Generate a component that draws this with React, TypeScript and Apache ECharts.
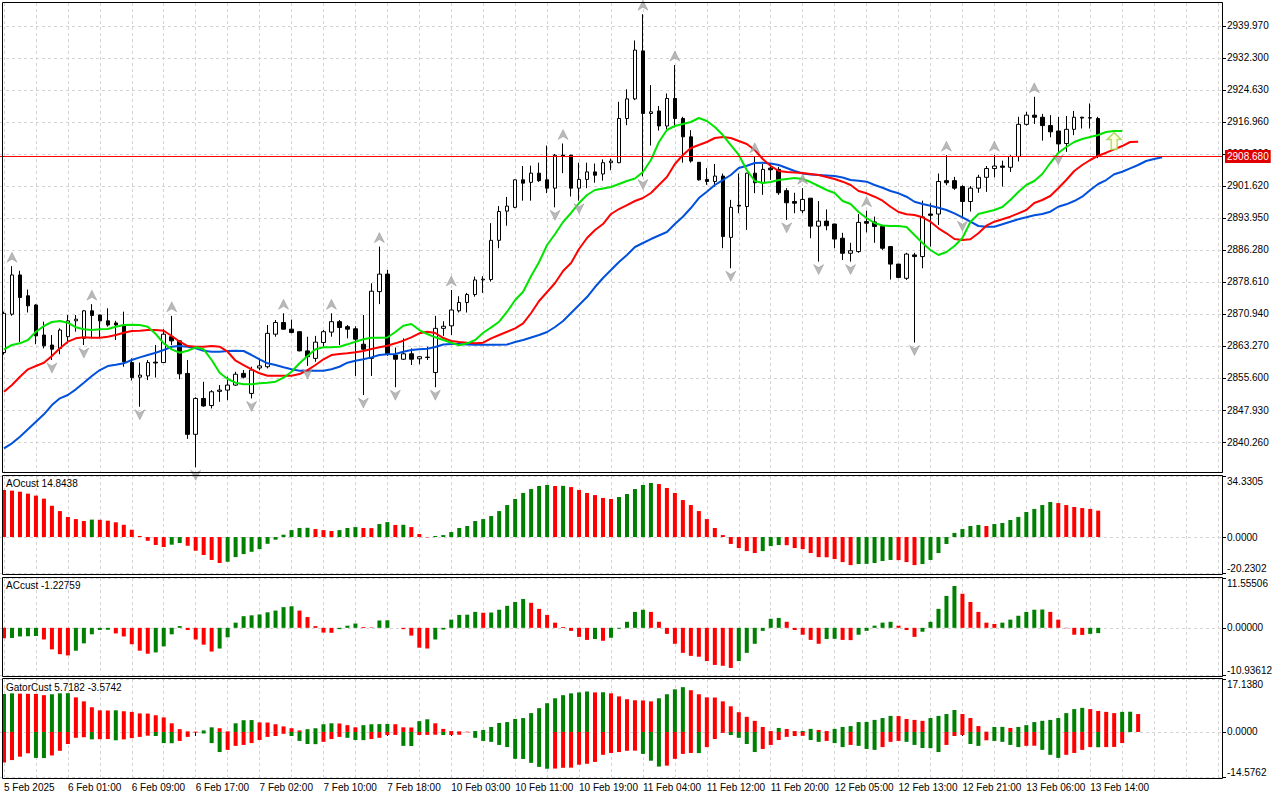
import React, { useEffect, useRef } from "react";
import * as echarts from "echarts";

const FONT = "'Liberation Sans', Arial, sans-serif";
const GREEN = "#008000";
const RED = "#ff0000";
const GRID_COLOR = "#d4d4d4";

// 153 bar slots on the time axis (138 candles + room for shifted Alligator lines)
const SLOT_COUNT = 153;
const SLOTS = Array.from({ length: SLOT_COUNT }, (_, i) => String(i));

const DATE_TICK_INDEX = [0, 8, 16, 24, 32, 40, 48, 56, 64, 72, 80, 88, 96, 104, 112, 120, 128, 136];
const DATE_TICK_TEXT = [
  "5 Feb 2025", "6 Feb 01:00", "6 Feb 09:00", "6 Feb 17:00", "7 Feb 02:00", "7 Feb 10:00",
  "7 Feb 18:00", "10 Feb 03:00", "10 Feb 11:00", "10 Feb 19:00", "11 Feb 04:00", "11 Feb 12:00",
  "11 Feb 20:00", "12 Feb 05:00", "12 Feb 13:00", "12 Feb 21:00", "13 Feb 06:00", "13 Feb 14:00",
];

const PRICE_TICKS = [
  2840.26, 2847.93, 2855.6, 2863.27, 2870.94, 2878.61, 2886.28, 2893.95, 2901.62, 2909.29,
  2916.96, 2924.63, 2932.3, 2939.97,
];
const PRICE_MIN = 2833.07;
const PRICE_MAX = 2945.48;
const LAST_PRICE = 2908.68;

const AO_MIN = -20.2302, AO_MAX = 34.3305;
const AC_MIN = -10.93612, AC_MAX = 11.55506;
const GATOR_MIN = -14.5762, GATOR_MAX = 17.138;

// [open, close, low, high]
const CANDLES: number[][] = [
  [2861.7, 2871.1, 2861.2, 2871.5], [2870.9, 2880.3, 2870.5, 2882.4], [2880.3, 2874.9, 2864.2, 2881.3],
  [2875.3, 2872.9, 2871.3, 2876.8], [2873.1, 2865.7, 2863.7, 2873.3], [2865.9, 2863.3, 2862.7, 2869.1],
  [2863.5, 2862.5, 2859.9, 2865.9], [2862.7, 2867.1, 2861.3, 2867.5], [2865.5, 2869.3, 2863.9, 2870.7],
  [2869.3, 2869.7, 2866.7, 2870.7], [2865.1, 2871.7, 2863.5, 2871.9], [2871.7, 2870.6, 2865.1, 2873.3],
  [2870.7, 2869.3, 2865.1, 2870.8], [2869.3, 2868.3, 2867.9, 2872.3], [2868.8, 2868.3, 2864.7, 2869.3],
  [2868.3, 2859.5, 2858.3, 2871.5], [2859.3, 2855.7, 2855.0, 2860.3], [2855.8, 2856.3, 2848.7, 2859.3],
  [2856.1, 2859.3, 2855.1, 2859.9], [2859.4, 2859.2, 2855.7, 2863.5], [2859.3, 2866.1, 2859.2, 2867.3],
  [2865.5, 2864.5, 2863.5, 2870.5], [2864.5, 2856.6, 2855.3, 2864.6], [2856.7, 2842.1, 2841.0, 2859.9],
  [2842.1, 2850.7, 2834.2, 2851.0], [2850.7, 2848.9, 2848.7, 2854.7], [2849.0, 2852.3, 2848.3, 2852.7],
  [2852.4, 2852.7, 2849.9, 2853.9], [2852.7, 2853.9, 2850.3, 2855.9], [2853.9, 2856.5, 2853.7, 2857.1],
  [2856.7, 2855.8, 2855.5, 2857.5], [2851.9, 2857.5, 2850.7, 2858.3], [2858.0, 2858.5, 2857.5, 2860.3],
  [2858.3, 2866.3, 2857.9, 2868.3], [2866.1, 2868.9, 2865.5, 2869.5], [2868.9, 2867.3, 2867.2, 2871.1],
  [2867.3, 2866.5, 2866.3, 2869.6], [2866.7, 2862.1, 2862.0, 2866.8], [2862.1, 2860.7, 2858.5, 2865.5],
  [2860.3, 2864.2, 2859.5, 2865.7], [2864.1, 2866.7, 2863.1, 2867.1], [2866.6, 2869.1, 2865.5, 2871.1],
  [2869.1, 2867.7, 2863.5, 2869.5], [2867.9, 2867.3, 2865.1, 2868.3], [2867.4, 2864.9, 2856.1, 2868.0],
  [2863.7, 2862.5, 2851.5, 2870.7], [2860.3, 2876.4, 2856.1, 2878.3], [2876.3, 2880.5, 2873.3, 2887.1],
  [2880.5, 2861.4, 2860.9, 2881.5], [2861.1, 2860.1, 2853.4, 2862.9], [2860.1, 2861.4, 2859.9, 2865.1],
  [2861.4, 2860.1, 2858.7, 2862.7], [2860.2, 2860.7, 2858.9, 2860.9], [2860.5, 2860.6, 2859.9, 2863.1],
  [2856.9, 2867.5, 2853.4, 2870.5], [2867.5, 2868.0, 2865.7, 2869.2], [2868.1, 2871.9, 2865.9, 2876.7],
  [2871.7, 2873.7, 2871.3, 2875.2], [2873.7, 2875.6, 2871.3, 2876.0], [2875.6, 2879.1, 2875.1, 2879.9],
  [2879.1, 2879.3, 2876.0, 2880.0], [2879.2, 2888.6, 2878.7, 2892.7], [2888.6, 2895.5, 2886.7, 2896.8],
  [2895.6, 2896.8, 2892.1, 2899.0], [2896.5, 2903.1, 2896.3, 2903.2], [2903.1, 2902.3, 2898.1, 2906.4],
  [2902.5, 2904.7, 2898.1, 2906.5], [2904.7, 2902.9, 2902.6, 2907.2], [2903.1, 2901.1, 2899.9, 2911.3],
  [2901.1, 2909.0, 2896.5, 2909.3], [2909.0, 2908.8, 2904.7, 2911.8], [2909.0, 2901.1, 2899.1, 2909.1],
  [2901.1, 2903.2, 2898.1, 2907.2], [2903.2, 2905.0, 2901.1, 2907.2], [2905.0, 2904.2, 2902.4, 2907.0],
  [2904.5, 2907.2, 2902.9, 2908.0], [2907.2, 2907.6, 2905.4, 2908.2], [2907.2, 2917.8, 2907.1, 2921.8],
  [2917.8, 2922.5, 2916.2, 2924.8], [2922.5, 2934.2, 2922.2, 2936.5], [2934.0, 2919.0, 2903.9, 2942.8],
  [2919.0, 2919.4, 2911.3, 2925.8], [2919.6, 2916.0, 2914.9, 2920.8], [2916.0, 2922.6, 2915.2, 2923.8],
  [2922.6, 2917.8, 2915.7, 2930.6], [2917.8, 2913.4, 2907.2, 2918.2], [2913.4, 2907.6, 2907.2, 2915.0],
  [2907.3, 2903.1, 2902.9, 2907.3], [2903.2, 2902.7, 2901.9, 2905.9], [2902.7, 2904.0, 2901.5, 2906.9],
  [2904.0, 2889.5, 2886.7, 2904.6], [2889.3, 2896.5, 2881.9, 2898.3], [2897.0, 2896.8, 2895.1, 2904.6],
  [2896.7, 2904.7, 2891.1, 2904.8], [2904.7, 2902.4, 2899.9, 2908.6], [2902.3, 2905.6, 2899.5, 2906.9],
  [2905.9, 2905.5, 2903.1, 2907.0], [2905.6, 2900.0, 2899.5, 2906.2], [2900.5, 2897.6, 2893.5, 2901.1],
  [2897.9, 2897.5, 2895.1, 2900.0], [2895.7, 2898.4, 2895.1, 2901.1], [2898.7, 2892.0, 2889.1, 2898.7],
  [2892.0, 2893.2, 2883.5, 2898.0], [2893.2, 2892.1, 2891.0, 2896.0], [2892.5, 2888.9, 2886.7, 2892.6],
  [2889.1, 2885.5, 2883.9, 2890.4], [2885.5, 2886.1, 2883.5, 2888.0], [2885.9, 2892.9, 2885.6, 2894.9],
  [2893.1, 2892.7, 2890.5, 2895.7], [2893.0, 2891.9, 2888.0, 2894.3], [2891.9, 2886.7, 2886.3, 2891.9],
  [2887.1, 2882.9, 2879.2, 2887.1], [2882.9, 2879.7, 2879.5, 2882.9], [2879.5, 2885.3, 2879.1, 2885.6],
  [2885.1, 2884.7, 2864.1, 2885.6], [2884.7, 2894.2, 2881.9, 2898.1], [2894.9, 2894.6, 2887.1, 2897.5],
  [2894.9, 2902.7, 2892.3, 2904.6], [2902.9, 2902.4, 2901.8, 2909.0], [2902.9, 2901.1, 2900.7, 2903.8],
  [2901.5, 2897.9, 2893.9, 2901.8], [2897.9, 2901.1, 2895.5, 2901.6], [2901.1, 2903.7, 2900.0, 2904.3],
  [2903.7, 2905.8, 2900.2, 2906.4], [2905.8, 2906.4, 2903.7, 2909.0], [2906.4, 2906.1, 2901.5, 2907.7],
  [2906.1, 2908.7, 2905.0, 2909.0], [2908.7, 2916.4, 2907.5, 2918.2], [2916.4, 2918.6, 2916.1, 2919.4],
  [2918.6, 2918.1, 2916.5, 2923.0], [2918.1, 2916.1, 2912.5, 2918.9], [2916.1, 2914.6, 2913.3, 2918.6],
  [2914.8, 2911.7, 2909.8, 2918.2], [2911.8, 2915.2, 2909.8, 2918.4], [2915.2, 2918.1, 2913.8, 2919.6],
  [2918.1, 2917.9, 2915.4, 2918.2], [2918.0, 2917.9, 2915.4, 2921.4], [2917.8, 2908.68, 2908.3, 2918.2],
];

// Alligator lines (already shifted: jaw +8, teeth +5, lips +3)
const JAW = [
  2838.74, 2839.94, 2841.52, 2843.3, 2845.12, 2846.89, 2849.12, 2850.73, 2851.52, 2852.88,
  2854.47, 2856.07, 2857.51, 2858.47, 2858.78, 2859.12, 2859.91, 2860.55, 2861.11, 2861.66,
  2862.3, 2863.1, 2863.26, 2863.1, 2862.71, 2862.14, 2861.9, 2861.88, 2862.07, 2862.14,
  2862.07, 2861.11, 2860.08, 2859.12, 2858.71, 2858.16, 2857.68, 2857.34, 2857.32, 2857.33,
  2857.34, 2857.68, 2858.3, 2859.26, 2859.74, 2860.08, 2860.55, 2861.11, 2861.27, 2861.35,
  2861.9, 2862.3, 2862.47, 2862.62, 2863.03, 2863.62, 2863.74, 2863.75, 2863.62, 2863.58,
  2863.57, 2863.58, 2863.58, 2863.62, 2864.22, 2864.7, 2865.3, 2865.9, 2866.62, 2867.82,
  2869.26, 2871.18, 2873.09, 2875.01, 2877.41, 2879.57, 2881.48, 2883.4, 2885.08, 2887.0,
  2887.96, 2888.91, 2889.75, 2890.59, 2892.51, 2894.26, 2896.34, 2898.74, 2900.25, 2901.86,
  2903.05, 2904.25, 2905.93, 2906.48, 2907.13, 2907.2, 2907.01, 2906.65, 2905.93, 2905.21,
  2904.61, 2904.37, 2904.25, 2904.13, 2904.01, 2903.65, 2903.05, 2902.89, 2902.65, 2901.86,
  2901.21, 2900.42, 2899.87, 2899.05, 2897.85, 2897.3, 2896.89, 2896.42, 2895.87, 2895.07,
  2894.11, 2893.06, 2892.03, 2891.86, 2891.86, 2892.44, 2893.06, 2893.64, 2894.11, 2894.59,
  2894.91, 2895.46, 2896.65, 2897.23, 2898.02, 2899.05, 2900.66, 2902.1, 2903.05, 2904.42,
  2905.04, 2905.86, 2906.65, 2907.61, 2908.09, 2908.5,
];
const TEETH = [
  2852.31, 2853.92, 2855.91, 2857.68, 2858.47, 2859.26, 2860.87, 2862.71, 2864.3, 2865.11,
  2865.35, 2865.26, 2865.25, 2865.49, 2865.9, 2866.45, 2866.86, 2866.93, 2867.1, 2867.09,
  2866.93, 2865.66, 2864.3, 2863.26, 2863.1, 2863.09, 2863.26, 2863.1, 2861.9, 2859.74,
  2858.71, 2857.68, 2856.72, 2856.15, 2856.14, 2856.15, 2856.16, 2856.55, 2857.51, 2858.71,
  2860.08, 2861.11, 2861.35, 2861.51, 2861.76, 2862.07, 2862.55, 2862.95, 2863.34, 2863.91,
  2864.54, 2865.35, 2866.31, 2866.69, 2866.38, 2865.18, 2864.46, 2864.22, 2864.06, 2863.91,
  2864.05, 2865.11, 2865.9, 2866.69, 2867.51, 2868.71, 2871.18, 2874.05, 2876.21, 2878.37,
  2881.24, 2883.16, 2886.52, 2889.15, 2891.07, 2892.51, 2894.91, 2896.1, 2897.06, 2898.02,
  2898.74, 2899.94, 2901.86, 2903.77, 2906.89, 2909.05, 2910.73, 2911.44, 2912.16, 2913.12,
  2913.36, 2913.12, 2912.4, 2911.68, 2910.25, 2908.09, 2906.41, 2905.21, 2904.97, 2904.85,
  2904.73, 2904.49, 2904.25, 2903.77, 2903.29, 2902.65, 2901.86, 2900.42, 2899.87, 2899.05,
  2898.09, 2896.65, 2895.38, 2894.83, 2894.67, 2894.11, 2893.06, 2891.48, 2890.28, 2888.91,
  2888.67, 2888.84, 2890.28, 2892.1, 2893.06, 2893.64, 2894.26, 2895.07, 2895.87, 2897.54,
  2898.26, 2899.22, 2901.07, 2903.05, 2905.21, 2906.65, 2907.85, 2908.88, 2909.6, 2910.41,
  2911.2, 2912.16, 2912.24,
];
const LIPS = [
  2862.47, 2863.51, 2863.91, 2864.7, 2866.69, 2868.06, 2869.02, 2869.26, 2868.85, 2867.75,
  2867.27, 2867.1, 2867.27, 2867.34, 2867.89, 2868.3, 2868.37, 2868.3, 2867.89, 2866.14,
  2863.91, 2862.47, 2861.66, 2862.14, 2862.95, 2862.47, 2859.91, 2856.87, 2855.36, 2854.47,
  2854.09, 2854.09, 2854.33, 2854.47, 2854.71, 2855.67, 2857.11, 2859.12, 2860.87, 2862.47,
  2862.95, 2862.95, 2863.1, 2863.67, 2864.3, 2864.87, 2865.26, 2865.26, 2865.3, 2866.62,
  2868.13, 2868.54, 2867.1, 2866.14, 2865.35, 2864.7, 2864.06, 2863.43, 2863.91, 2864.7,
  2866.45, 2867.75, 2869.09, 2871.49, 2874.29, 2876.28, 2880.04, 2883.4, 2887.48, 2890.11,
  2892.99, 2895.15, 2897.54, 2899.46, 2900.66, 2901.02, 2901.38, 2902.1, 2902.82, 2903.41,
  2904.97, 2907.85, 2912.16, 2915.04, 2916.0, 2916.48, 2916.96, 2917.92, 2917.2, 2915.76,
  2913.84, 2911.44, 2909.05, 2905.45, 2902.82, 2902.34, 2902.57, 2903.05, 2903.29, 2903.53,
  2903.29, 2902.57, 2901.62, 2900.66, 2899.94, 2898.02, 2897.3, 2895.38, 2893.95, 2892.75,
  2892.15, 2892.03, 2892.03, 2891.79, 2889.87, 2887.95, 2886.28, 2885.08, 2885.8, 2887.24,
  2889.15, 2892.99, 2894.91, 2895.38, 2895.87, 2896.58, 2898.26, 2900.18, 2901.86, 2902.82,
  2904.49, 2907.13, 2909.53, 2910.97, 2912.16, 2912.88, 2913.36, 2913.84, 2914.56, 2914.8,
  2914.8,
];

const FRACTAL_UP = [1, 11, 21, 35, 41, 47, 56, 70, 80, 84, 94, 100, 108, 118, 124, 129];
const FRACTAL_DOWN = [6, 10, 17, 24, 31, 38, 45, 49, 54, 69, 72, 80, 91, 98, 102, 106, 114, 120, 132];
const SIGNAL_ARROW = [139, 2912.4];

const AO = [
  26.5, 26.1, 25.5, 24.4, 23.3, 21.6, 17.6, 14.6, 11.3, 10.1,
  9.0, 9.8, 9.7, 9.2, 8.3, 6.9, 4.1, 0.6, -2.1, -4.5,
  -5.6, -4.3, -3.4, -4.9, -7.7, -10.1, -12.9, -14.6, -13.9, -11.3,
  -9.6, -8.3, -6.8, -3.8, -1.5, 1.3, 3.9, 5.1, 5.2, 4.5,
  3.9, 3.4, 3.9, 5.1, 5.6, 5.1, 5.0, 7.3, 8.4, 6.8,
  6.9, 5.6, 1.7, -0.2, 0.6, 1.1, 2.8, 5.1, 6.2, 9.0,
  10.1, 11.8, 14.6, 18.0, 21.4, 24.8, 27.0, 28.7, 29.3, 28.7,
  28.8, 28.1, 26.5, 24.8, 23.6, 22.0, 21.4, 22.5, 24.2, 27.0,
  29.3, 30.4, 29.8, 27.6, 24.8, 20.8, 18.0, 14.6, 10.1, 5.1,
  1.1, -3.9, -6.2, -7.9, -9.0, -7.9, -5.1, -4.5, -4.6, -6.2,
  -6.8, -9.0, -11.3, -11.4, -12.4, -14.1, -15.8, -15.2, -15.1, -14.6,
  -13.5, -12.9, -13.0, -14.1, -15.8, -15.2, -12.9, -9.0, -3.9, 2.3,
  4.5, 6.2, 6.8, 6.2, 7.3, 7.9, 9.6, 11.3, 14.1, 15.8,
  18.0, 19.7, 19.1, 18.0, 16.9, 16.3, 15.8, 14.8438,
];
const AC = [
  -2.4, -2.35, -2.0, -1.95, -1.9, -2.7, -5.0, -6.1, -6.4, -5.3,
  -3.6, -1.5, -0.5, -0.45, -1.3, -2.0, -3.8, -5.3, -6.0, -5.7,
  -4.3, -1.5, 0.4, -0.5, -2.7, -3.9, -5.5, -4.8, -2.2, 1.2,
  2.7, 2.9, 3.1, 3.6, 4.0, 4.8, 5.0, 4.0, 2.5, 0.4,
  -1.1, -1.15, -0.3, 0.5, 1.0, 0.2, 0.1, 1.7, 1.75, 0.0,
  -0.3, -1.8, -4.6, -4.8, -2.7, -0.4, 1.9, 3.0, 3.05, 3.7,
  3.5, 3.55, 4.2, 5.1, 6.0, 6.7, 5.8, 4.4, 3.0, 1.2,
  0.2, -0.7, -2.1, -2.8, -2.6, -3.0, -2.3, -0.2, 1.4, 3.7,
  4.2, 3.7, 1.4, -1.4, -3.7, -5.8, -6.5, -6.7, -7.7, -8.6,
  -8.8, -9.3, -7.7, -5.8, -3.7, -0.7, 2.1, 2.3, 1.4, -0.5,
  -1.6, -2.8, -3.7, -2.6, -2.55, -2.8, -2.85, -1.6, -0.7, 0.5,
  1.2, 1.4, 0.5, -0.5, -2.1, -0.9, 1.4, 4.4, 7.4, 9.7,
  7.9, 6.0, 3.7, 1.2, 0.9, 1.2, 1.9, 2.8, 3.7, 4.2,
  4.25, 3.7, 1.9, -0.1, -1.6, -1.65, -1.4, -1.22759,
];
const GATOR_UPPER = [
  12.3, 12.5, 12.4, 12.35, 12.3, 11.9, 12.2, 12.5, 12.55, 11.2,
  9.9, 8.0, 7.0, 6.95, 7.0, 6.7, 6.5, 6.0, 5.95, 5.4,
  4.7, 2.8, 0.9, 0.2, 0.1, 0.5, 1.5, 1.2, 0.2, 2.8,
  3.8, 3.85, 3.1, 3.05, 2.5, 1.8, 1.2, 0.5, 0.9, 1.2,
  2.5, 2.8, 2.75, 2.2, 1.5, 2.2, 2.5, 2.55, 2.6, 2.5,
  1.5, 1.45, 3.5, 4.1, 2.8, 1.0, 0.3, 0.2, 0.1, 0.3,
  0.65, 1.6, 2.9, 3.2, 4.2, 4.5, 6.1, 7.7, 9.3, 10.9,
  11.9, 12.5, 12.8, 13.1, 12.8, 12.85, 12.5, 11.5, 10.6, 10.25,
  10.2, 9.9, 10.9, 12.2, 13.8, 14.5, 13.5, 12.2, 11.2, 11.15,
  9.9, 8.3, 6.4, 4.9, 3.6, 1.6, 0.3, 1.3, 0.97, 0.3,
  0.35, 1.0, 0.65, 0.3, 1.0, 1.6, 1.9, 3.2, 3.25, 3.9,
  4.5, 5.2, 5.15, 4.2, 3.9, 3.6, 4.5, 5.2, 5.8, 7.1,
  5.8, 4.5, 1.9, 0.1, 1.6, 1.65, 1.3, 1.6, 2.2, 3.2,
  3.6, 3.9, 4.5, 6.1, 7.4, 7.8, 7.4, 6.8, 6.5, 6.1,
  6.5, 6.55, 5.8,
];
const GATOR_LOWER = [
  -9.9, -9.1, -8.0, -6.9, -8.4, -8.45, -7.6, -6.1, -3.9, -1.9,
  -1.7, -2.4, -2.35, -2.3, -2.7, -2.4, -2.0, -1.6, -1.2, -1.3,
  -3.6, -3.65, -2.9, -1.6, -0.2, -0.5, -3.6, -6.5, -5.8, -4.5,
  -4.2, -3.6, -2.6, -1.6, -1.3, -0.6, -1.3, -2.9, -3.9, -3.95,
  -3.2, -2.3, -1.6, -1.9, -2.6, -2.65, -2.3, -1.9, -1.0, -0.95,
  -4.5, -4.55, -1.0, -0.95, -0.9, -1.0, -0.95, -0.9, -0.1, -1.9,
  -2.9, -3.2, -4.2, -4.9, -8.7, -8.75, -10.0, -11.3, -11.9, -11.85,
  -11.6, -11.55, -10.6, -10.3, -9.7, -7.4, -6.8, -6.5, -6.1, -6.05,
  -7.1, -9.3, -11.2, -10.9, -8.7, -7.1, -6.8, -6.85, -4.9, -2.3,
  -0.3, -1.0, -1.9, -3.9, -6.5, -5.5, -4.2, -2.6, -1.6, -1.3,
  -1.25, -2.6, -3.2, -2.9, -3.6, -4.9, -4.2, -4.5, -5.5, -5.8,
  -4.9, -3.2, -2.9, -3.2, -4.2, -5.2, -5.25, -6.5, -4.2, -1.3,
  -1.0, -3.9, -4.5, -2.7, -2.9, -3.2, -4.2, -4.9, -4.5, -4.45,
  -5.8, -7.4, -8.4, -7.4, -6.8, -5.8, -4.9, -4.95, -4.9, -4.85,
  -3.6,
];

const INDICATOR_TITLES = ["AOcust 14.8438", "ACcust -1.22759", "GatorCust 5.7182 -3.5742"];
const TITLE_TOPS = [478, 580, 682];

const signedRise = (vals: number[], first: string) => (p: any) => {
  const i = p.dataIndex;
  if (i === 0) return first;
  return vals[i] > vals[i - 1] ? GREEN : RED;
};
const magnitudeRise = (vals: number[], first: string) => (p: any) => {
  const i = p.dataIndex;
  if (i === 0) return first;
  return Math.abs(vals[i]) > Math.abs(vals[i - 1]) ? GREEN : RED;
};

const GRIDS = [
  { top: 3, height: 469 },
  { top: 476, height: 97 },
  { top: 578, height: 97 },
  { top: 679, height: 98 },
];

function buildOption(): any {
  const dashed = { color: GRID_COLOR, type: [3, 3] as any, width: 1 };
  const isDateTick = (idx: number) => DATE_TICK_INDEX.indexOf(idx) >= 0;
  const xAxes = GRIDS.map((_, gi) => ({
    type: "category",
    gridIndex: gi,
    data: SLOTS,
    boundaryGap: true,
    axisLine: { show: false },
    axisTick: {
      show: gi === 3,
      alignWithLabel: true,
      interval: isDateTick,
      length: 4,
      lineStyle: { color: "#000" },
    },
    axisLabel: {
      show: gi === 3,
      interval: isDateTick,
      formatter: (_v: string, idx: number) => {
        const j = DATE_TICK_INDEX.indexOf(idx);
        return j >= 0 ? DATE_TICK_TEXT[j] : "";
      },
      align: "left",
      margin: 5,
      color: "#000",
      fontSize: 10,
      fontFamily: FONT,
    },
    splitLine: {
      show: true,
      interval: 3,
      alignWithLabel: true,
      lineStyle: dashed,
    },
  }));

  const subAxis = (gi: number, min: number, max: number, digits: number) => ({
    type: "value",
    gridIndex: gi,
    position: "right",
    min,
    max,
    axisLine: { show: true, lineStyle: { color: "#000" } },
    axisTick: { show: true, customValues: [min, 0, max], length: 4, lineStyle: { color: "#000" } },
    axisLabel: {
      customValues: [min, 0, max],
      formatter: (v: number) => v.toFixed(digits),
      color: "#000",
      fontSize: 10,
      fontFamily: FONT,
      margin: 5,
      verticalAlignMaxLabel: "top",
      verticalAlignMinLabel: "bottom",
    },
    splitLine: { show: true, lineStyle: dashed },
  });

  const yAxes = [
    {
      type: "value",
      gridIndex: 0,
      position: "right",
      min: PRICE_MIN,
      max: PRICE_MAX,
      axisLine: { show: true, lineStyle: { color: "#000" } },
      axisTick: { show: true, customValues: PRICE_TICKS, length: 4, lineStyle: { color: "#000" } },
      axisLabel: {
        customValues: PRICE_TICKS,
        formatter: (v: number) => v.toFixed(3),
        color: "#000",
        fontSize: 10,
        fontFamily: FONT,
        margin: 5,
      },
      splitLine: { show: true, lineStyle: dashed },
    },
    subAxis(1, AO_MIN, AO_MAX, 4),
    subAxis(2, AC_MIN, AC_MAX, 5),
    subAxis(3, GATOR_MIN, GATOR_MAX, 4),
  ];

  const lineSeries = (name: string, data: number[], color: string) => ({
    name,
    type: "line",
    xAxisIndex: 0,
    yAxisIndex: 0,
    data,
    showSymbol: false,
    symbol: "none",
    lineStyle: { color, width: 2 },
    z: 3,
  });

  const upArrow = "path://M5,0 L10,10 L5,7 L0,10 Z";
  const downArrow = "path://M0,0 L5,3 L10,0 L5,10 Z";
  const blockArrow = "path://M7,0 L14,7 L10,7 L10,17 L4,17 L4,7 L0,7 Z";

  const frame = (y: number, h: number) => ({
    type: "rect",
    silent: true,
    z: 100,
    shape: { x: 2.5, y, width: 1220, height: h },
    style: { fill: "none", stroke: "#000", lineWidth: 1 },
  });

  return {
    animation: false,
    backgroundColor: "#ffffff",
    textStyle: { fontFamily: FONT },
    grid: GRIDS.map((g) => ({ left: -2, width: 1224, top: g.top, height: g.height, show: false })),
    xAxis: xAxes,
    yAxis: yAxes,
    series: [
      {
        name: "XAUUSD",
        type: "candlestick",
        xAxisIndex: 0,
        yAxisIndex: 0,
        data: CANDLES,
        barWidth: 4,
        z: 2,
        itemStyle: {
          color: "#ffffff",
          color0: "#000000",
          borderColor: "#000000",
          borderColor0: "#000000",
          borderColorDoji: "#000000",
          borderWidth: 1,
        },
        markLine: {
          silent: true,
          symbol: ["none", "none"],
          animation: false,
          data: [{ yAxis: LAST_PRICE }],
          lineStyle: { color: "#ff0000", width: 1, type: "solid" },
          label: {
            show: true,
            position: "end",
            distance: 3,
            formatter: () => LAST_PRICE.toFixed(3),
            color: "#ffffff",
            backgroundColor: "#e00000",
            padding: [2, 2, 1, 2],
            fontSize: 10,
            fontFamily: FONT,
          },
        },
      },
      lineSeries("Jaw", JAW, "#0050dc"),
      lineSeries("Teeth", TEETH, "#ff0000"),
      lineSeries("Lips", LIPS, "#00e400"),
      {
        name: "Fractal up",
        type: "scatter",
        xAxisIndex: 0,
        yAxisIndex: 0,
        data: FRACTAL_UP.map((k) => [k, CANDLES[k][3]]),
        symbol: upArrow,
        symbolSize: [10, 10],
        symbolOffset: [0, -9],
        itemStyle: { color: "#a8a8a8", borderColor: "#888888", borderWidth: 0.5 },
        z: 4,
      },
      {
        name: "Fractal down",
        type: "scatter",
        xAxisIndex: 0,
        yAxisIndex: 0,
        data: FRACTAL_DOWN.map((k) => [k, CANDLES[k][2]]),
        symbol: downArrow,
        symbolSize: [10, 10],
        symbolOffset: [0, 8],
        itemStyle: { color: "#a8a8a8", borderColor: "#888888", borderWidth: 0.5 },
        z: 4,
      },
      {
        name: "Signal",
        type: "scatter",
        xAxisIndex: 0,
        yAxisIndex: 0,
        data: [SIGNAL_ARROW],
        symbol: blockArrow,
        symbolSize: [14, 17],
        itemStyle: { color: "#ffffd8", borderColor: "#9ad24a", borderWidth: 1.5 },
        z: 5,
      },
      {
        name: "AO",
        type: "bar",
        xAxisIndex: 1,
        yAxisIndex: 1,
        data: AO,
        barWidth: 4,
        itemStyle: { color: signedRise(AO, RED) },
      },
      {
        name: "AC",
        type: "bar",
        xAxisIndex: 2,
        yAxisIndex: 2,
        data: AC,
        barWidth: 4,
        itemStyle: { color: signedRise(AC, RED) },
      },
      {
        name: "Gator upper",
        type: "bar",
        xAxisIndex: 3,
        yAxisIndex: 3,
        data: GATOR_UPPER,
        barWidth: 4,
        barGap: "-100%",
        itemStyle: { color: magnitudeRise(GATOR_UPPER, GREEN) },
      },
      {
        name: "Gator lower",
        type: "bar",
        xAxisIndex: 3,
        yAxisIndex: 3,
        data: GATOR_LOWER,
        barWidth: 4,
        barGap: "-100%",
        itemStyle: { color: magnitudeRise(GATOR_LOWER, RED) },
      },
    ],
    graphic: [
      frame(2.5, 470),
      frame(475.5, 99),
      frame(577.5, 99),
      frame(678.5, 100),
      ...INDICATOR_TITLES.map((t, i) => ({
        type: "text",
        silent: true,
        z: 101,
        left: 6,
        top: TITLE_TOPS[i],
        style: { text: t, fill: "#000", font: `10px ${FONT}` },
      })),
    ],
  };
}

export default function App() {
  const ref = useRef<HTMLDivElement>(null);
  useEffect(() => {
    if (!ref.current) return;
    const chart = echarts.init(ref.current, null, { renderer: "svg", width: 1280, height: 800 });
    chart.setOption(buildOption());
    return () => chart.dispose();
  }, []);
  return (
    <div
      ref={ref}
      style={{ position: "absolute", left: 0, top: 0, width: 1280, height: 800, background: "#fff" }}
    />
  );
}
